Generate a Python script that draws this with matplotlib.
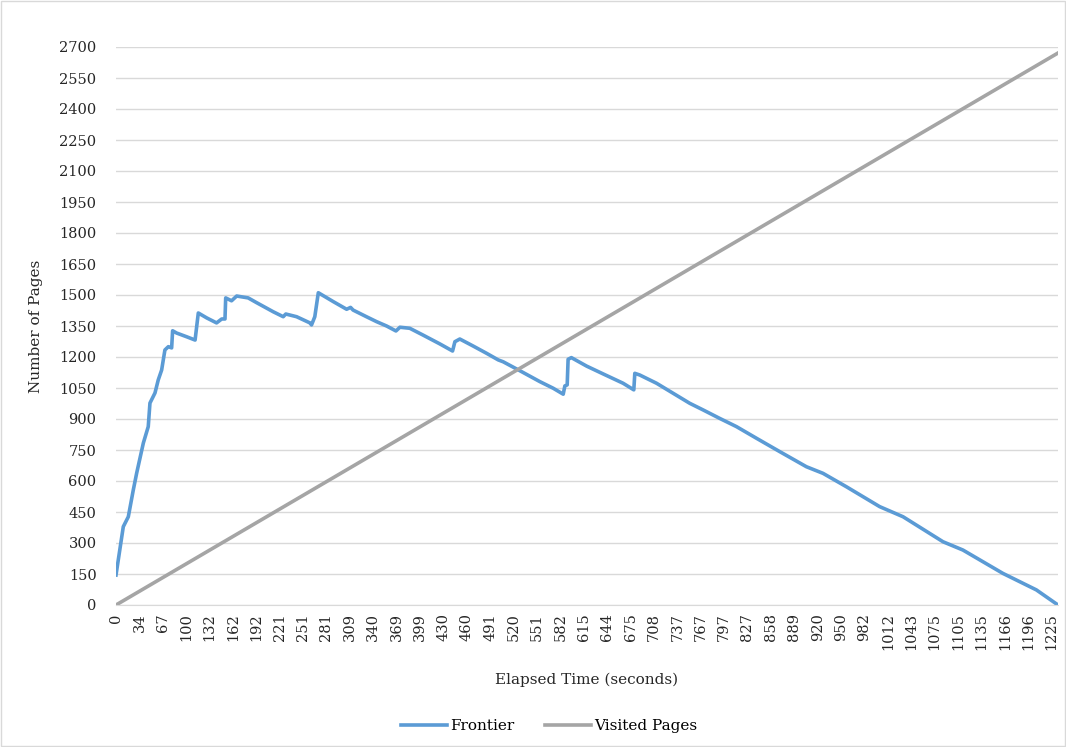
import numpy as np
import matplotlib
matplotlib.use("Agg")
import matplotlib.pyplot as plt
from matplotlib.patches import Rectangle

plt.rcParams['font.family'] = ['DejaVu Serif']

# tick labels of the category axis (elapsed seconds)
tick_labels = [0, 34, 67, 100, 132, 162, 192, 221, 251, 281, 309, 340, 369, 399,
               430, 460, 491, 520, 551, 582, 615, 644, 675, 708, 737, 767, 797,
               827, 858, 889, 920, 950, 982, 1012, 1043, 1075, 1105, 1135, 1166,
               1196, 1225]

# frontier size
frontier_t = [0, 10.6, 17.9, 25.1, 30.1, 39.6, 46.5, 48.9, 56, 60.6, 65.4, 70, 74.9,
              79.5, 80.9, 86.5, 100.6, 112.2, 116.6, 128.2, 141, 147.6, 151.8, 152.7,
              160.2, 166.8, 181.5, 192.3, 212.9, 225.5, 228.8, 242.6, 259.7, 261.8,
              266, 270.5, 289.1, 305.1, 309.9, 313.3, 330.9, 344.1, 356.5, 368.1,
              373.2, 385.8, 403, 425.4, 441.7, 444.7, 451, 468.4, 486.1, 500.9, 507,
              528.1, 554.7, 572.4, 586, 588.3, 591.6, 592.9, 597.5, 618.5, 639.1,
              665.1, 679.6, 681, 687.9, 711.2, 752.9, 770, 791.3, 812.9, 838.8,
              869.8, 905.1, 926.9, 957.4, 1001.5, 1032.2, 1085.8, 1111.3, 1163.5,
              1206.2, 1233]
frontier = [145, 379, 427, 556, 639, 784, 863, 977, 1026, 1089, 1137, 1234, 1250,
            1244, 1327, 1316, 1298, 1282, 1413, 1389, 1365, 1384, 1384, 1486,
            1472, 1495, 1486, 1463, 1419, 1395, 1408, 1395, 1365, 1355,
            1395, 1511, 1468, 1431, 1440, 1427, 1395, 1371, 1350, 1326,
            1344, 1339, 1306, 1263, 1229, 1274, 1287, 1253, 1218, 1186, 1177,
            1134, 1081, 1049, 1020, 1060, 1065, 1189, 1197, 1156, 1118,
            1073, 1041, 1121, 1113, 1073, 976, 944, 903, 863, 807,
            742, 669, 637, 572, 476, 427, 306, 266, 153,
            73, 0]

visited_t = [0, 1233]
visited = [0, 2671]


def to_pos(t):
    t = np.asarray(t, dtype=float)
    idx = np.arange(len(tick_labels))
    pos = np.interp(t, tick_labels, idx)
    over = t > tick_labels[-1]
    pos[over] = idx[-1] + (t[over] - tick_labels[-1]) / (tick_labels[-1] - tick_labels[-2])
    return pos


fig = plt.figure(figsize=(10.66, 7.47), dpi=100)
ax = fig.add_axes([116 / 1066, 142 / 747, 942 / 1066, 558 / 747])

ax.plot(to_pos(frontier_t), frontier, color="#5B9BD5", lw=2.6, label="Frontier",
        solid_joinstyle="round")
ax.plot(to_pos(visited_t), visited, color="#A5A5A5", lw=2.6, label="Visited Pages")

ax.set_xlim(0, to_pos([frontier_t[-1]])[0])
ax.set_ylim(0, 2700)
ax.set_yticks(range(0, 2701, 150))
ax.set_xticks(range(len(tick_labels)))
ax.set_xticklabels([str(v) for v in tick_labels], rotation=90)
ax.tick_params(length=0, labelsize=10.5, colors="#404040")
ax.tick_params(axis="y", pad=14)
ax.tick_params(axis="x", pad=6)
for lab in ax.get_xticklabels() + ax.get_yticklabels():
    lab.set_color("#262626")

ax.grid(axis="y", color="#D9D9D9", lw=1)
ax.set_axisbelow(True)
for s in ["top", "right", "left"]:
    ax.spines[s].set_visible(False)
ax.spines["bottom"].set_color("#D9D9D9")

ax.set_xlabel("Elapsed Time (seconds)", fontsize=11, color="#262626", labelpad=16)
ax.set_ylabel("Number of Pages", fontsize=11, color="#262626", labelpad=12)

ax.legend(loc="upper center", bbox_to_anchor=(0.46, -0.18), ncol=2, frameon=False,
          fontsize=11, handlelength=3, handletextpad=0.2, columnspacing=2)

fig.patches.append(Rectangle((0.001, 0.001), 0.998, 0.997, transform=fig.transFigure,
                             fill=False, edgecolor="#D9D9D9", lw=1))

fig.savefig("out.png", dpi=100)
